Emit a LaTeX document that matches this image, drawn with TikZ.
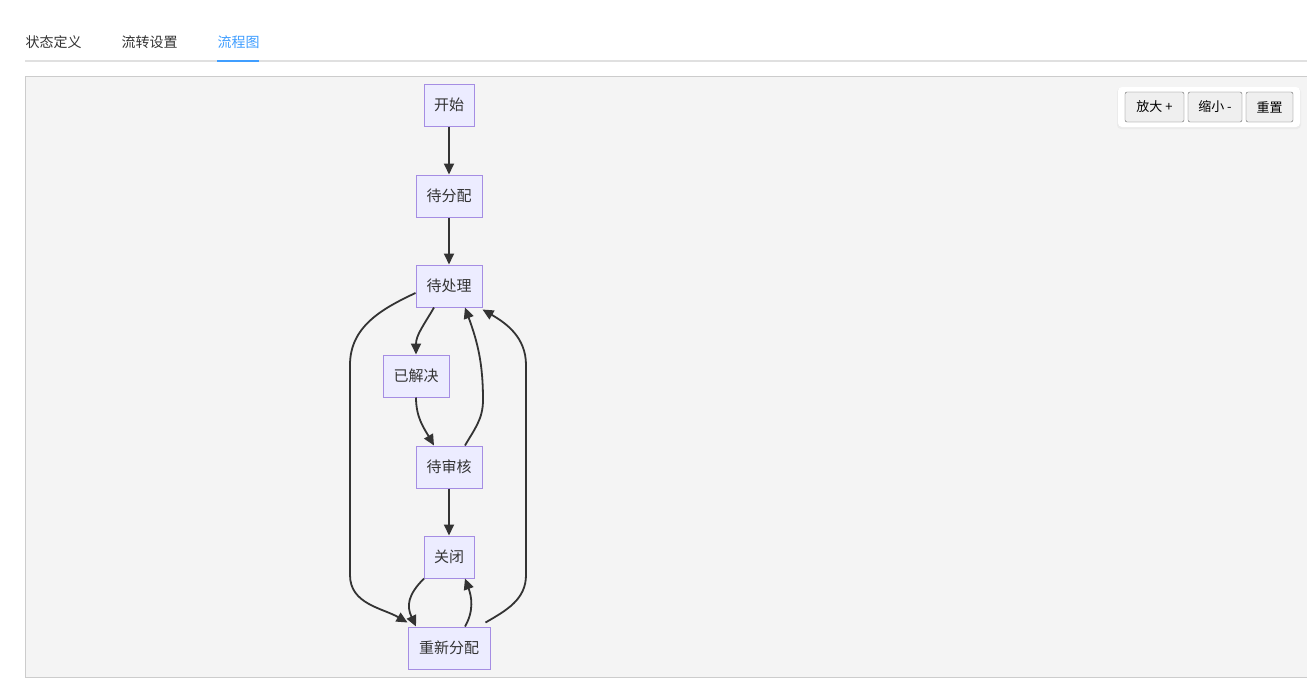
\documentclass[tikz,border=0pt]{standalone}
\usepackage{fontspec}
\setmainfont{Noto Sans CJK SC}
\usetikzlibrary{arrows.meta,calc}
\definecolor{canvasbg}{HTML}{F4F4F4}
\definecolor{nodefill}{HTML}{ECECFF}
\definecolor{nodeline}{HTML}{A58DE3}
\definecolor{tabblue}{HTML}{409EFF}
\definecolor{btnfill}{HTML}{EFEFEF}
\begin{document}
\begin{tikzpicture}[x=1pt,y=-1pt,font=\fontsize{14}{16}\selectfont]
    % `state' is used for the flow chart boxes.
    % `flow' is used for the connectors.
    % `button' is used for the zoom buttons.
    \tikzset{state/.style={draw=nodeline,fill=nodefill,line width=1pt,minimum height=42pt,inner sep=0pt,text=black!80,font=\fontsize{15}{17}\selectfont},
             flow/.style={draw=black!80,line width=1.8pt,-{Triangle[length=11pt,width=10pt]}},
             button/.style={draw=black!60,fill=btnfill,rounded corners=2pt,minimum height=30pt,inner sep=0pt,font=\fontsize{13}{15}\selectfont},
             tab/.style={anchor=west,text=black!80}}
    \useasboundingbox (0,0) rectangle (1307,678);
    \fill[white] (0,0) rectangle (1307,678);
    % Tabs.
    \node[tab] (tdef) at (22,42) {状态定义};
    \node[tab] (tflow) at (118,42) {流转设置};
    \node[tab,text=tabblue] (tchart) at (214,42) {流程图};
    \draw[black!12,line width=1.5pt] (25,61) -- (1307,61);
    \draw[tabblue,line width=2pt] (217,61) -- (259,61);
    % Canvas.
    \draw[fill=canvasbg,draw=black!20] (25.5,76.5) rectangle (1307,677);
    \fill[black!8,rounded corners=4pt] (1117,88) rectangle (1301,129);
    \fill[white,rounded corners=4pt] (1118,87) rectangle (1300,127);
    \node[button,minimum width=59pt] (zin) at (1154.5,107) {放大 +};
    \node[button,minimum width=54pt] (zout) at (1215,107) {缩小 -};
    \node[button,minimum width=47pt] (zreset) at (1269.5,107) {重置};
    % States.
    \node[state,minimum width=50pt] (start) at (449,105) {开始};
    \node[state,minimum width=66pt] (assign) at (449,196) {待分配};
    \node[state,minimum width=66pt] (pending) at (449,286) {待处理};
    \node[state,minimum width=66pt] (solved) at (416,376) {已解决};
    \node[state,minimum width=66pt] (review) at (449,467) {待审核};
    \node[state,minimum width=50pt] (closed) at (449,557) {关闭};
    \node[state,minimum width=82pt] (reassign) at (449,648) {重新分配};
    % Bend points of the outer loops.
    \coordinate (lefttop) at (350,365);
    \coordinate (leftbot) at (350,575);
    \coordinate (righttop) at (526,365);
    \coordinate (rightbot) at (526,575);
    % Connectors.
    \draw[flow] (start) -- (assign);
    \draw[flow] (assign) -- (pending);
    \draw[flow] (review) -- (closed);
    \draw[flow] ([xshift=-15pt]pending.south) to[out=240,in=90] (solved.north);
    \draw[flow] (solved.south) to[out=270,in=120] ([xshift=-15pt]review.north);
    \draw[flow] ([xshift=16pt]review.north) to[out=60,in=270] (483,400) to[out=90,in=290] ([xshift=16pt]pending.south);
    \draw[flow] ([yshift=-7pt]pending.west) to[out=205,in=90] (lefttop) -- (leftbot) to[out=270,in=150] ([yshift=4pt]reassign.north west);
    \draw[flow] ([xshift=-5pt,yshift=4pt]reassign.north east) to[out=30,in=270] (rightbot) -- (righttop) to[out=90,in=330] ([yshift=-2pt]pending.south east);
    \draw[flow] ([xshift=-25pt]closed.south) to[out=225,in=115,looseness=1.2] ([xshift=-33pt]reassign.north);
    \draw[flow] ([xshift=16pt]reassign.north) to[out=60,in=290] ([xshift=16pt]closed.south);
\end{tikzpicture}
\end{document}
